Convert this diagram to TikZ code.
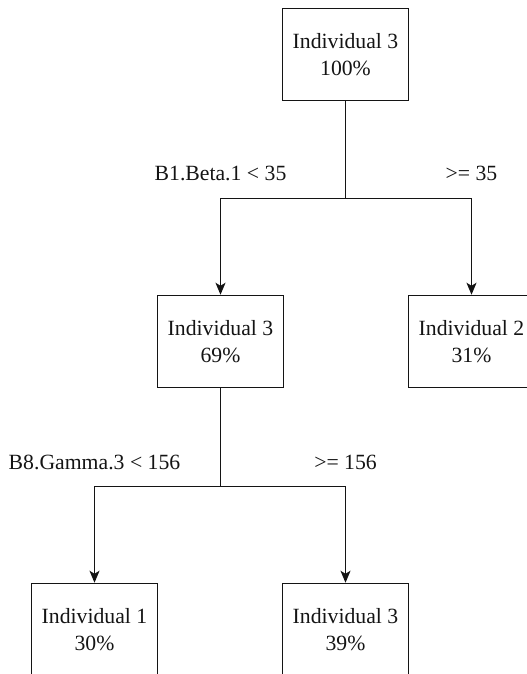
\documentclass[tikz,border=0pt]{standalone}
\usepackage{fontspec}
\setmainfont{Liberation Serif}
\usetikzlibrary{arrows.meta}
\begin{document}
\begin{tikzpicture}[x=1bp,y=-1bp,
  line width=1.5bp, color=black!92,
  leaf/.style={draw, rectangle, minimum width=126bp, minimum height=92bp,
    align=center, inner sep=0pt, font=\fontsize{21.8}{26.5}\selectfont},
  cond/.style={anchor=base, inner sep=0pt, font=\fontsize{21.8}{26}\selectfont},
  arr/.style={-{Stealth[length=12bp,width=10bp,inset=3bp]}}]
\clip (0,0) rectangle (527,674);
\useasboundingbox (0,0) rectangle (527,674);

% tree nodes
\node[leaf] (root) at (345.5,54.5)  {Individual 3\\100\%};
\node[leaf] (l1)   at (220.5,341.5) {Individual 3\\69\%};
\node[leaf] (r1)   at (471.5,341.5) {Individual 2\\31\%};
\node[leaf] (l2)   at (94.5,629.5)  {Individual 1\\30\%};
\node[leaf] (r2)   at (345.5,629.5) {Individual 3\\39\%};

% split points
\coordinate (s1) at (345.5,198.5);
\coordinate (s2) at (220.5,486.5);

% split conditions
\node[cond] (c1l) at (220.5,180) {B1.Beta.1 < 35};
\node[cond] (c1r) at (471.5,180) {>= 35};
\node[cond] (c2l) at (94.5,469) {B8.Gamma.3 < 156};
\node[cond] (c2r) at (345.5,469) {>= 156};

% connectors
\draw (root.south) -- (s1);
\draw[arr] (s1) -| (l1.north);
\draw[arr] (s1) -| (r1.north);
\draw (l1.south) -- (s2);
\draw[arr] (s2) -| (l2.north);
\draw[arr] (s2) -| (r2.north);
\end{tikzpicture}
\end{document}
